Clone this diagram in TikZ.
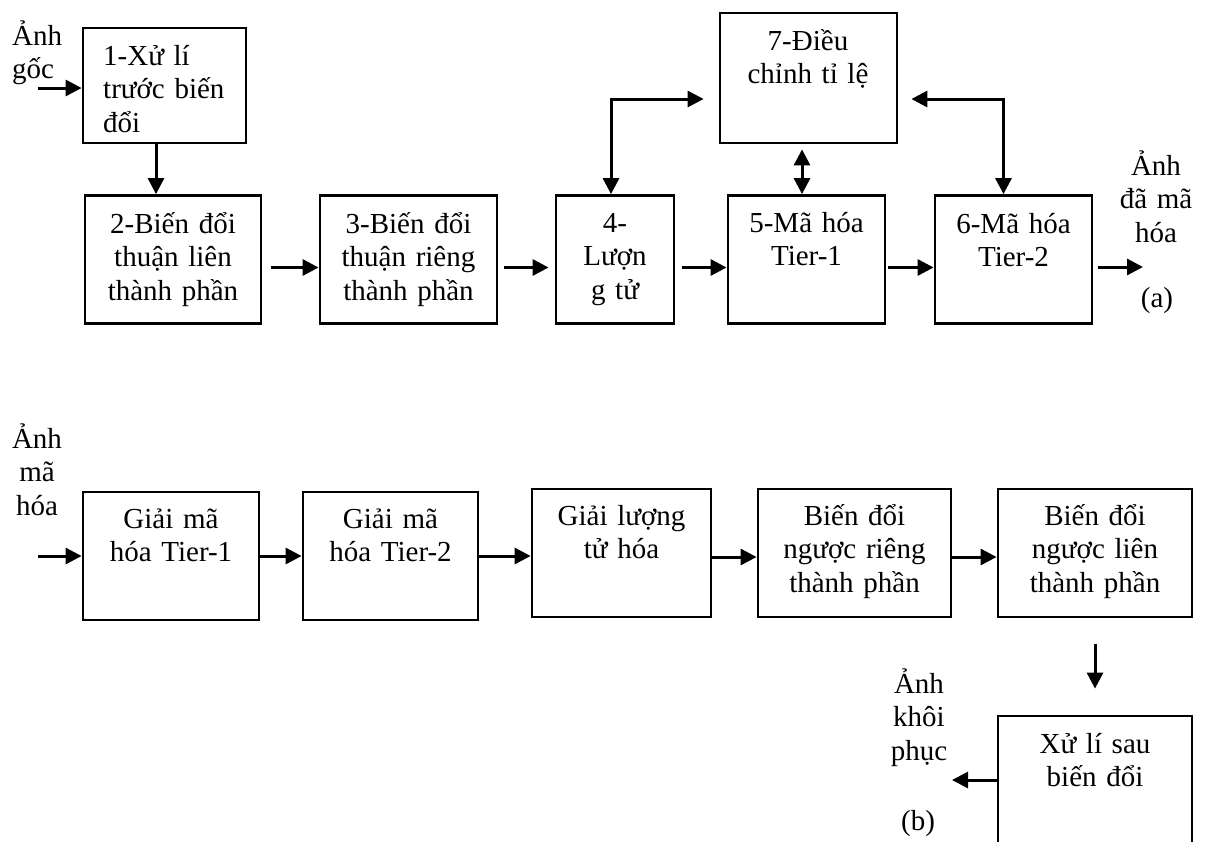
\documentclass[tikz,border=0pt]{standalone}
\usepackage{fontspec}
\setmainfont{Liberation Serif}
\usepackage{tikz}
\usetikzlibrary{arrows.meta}
\usetikzlibrary{positioning,calc}
\tikzset{
  every node/.style={font=\fontsize{29}{33.5}\selectfont}
}

\begin{document}
\begin{tikzpicture}[x=1pt, y=-1pt]
  \tikzset{
    block/.style={
      draw,
      line width=2.8pt,
      inner sep=0pt,
      minimum height=128pt,
    },
    blocktext/.style={
      align=center,
      text width=180pt,
      anchor=base,
      inner sep=0pt,
    },
    flow/.style={
      line width=3pt,
      -{Triangle[length=16pt, width=16pt]},
    },
    twoway/.style={
      line width=3pt,
      {Triangle[length=16pt, width=16pt]}-{Triangle[length=16pt, width=16pt]},
    }
  }
  \useasboundingbox (0,0) rectangle (1206,841);
  \clip (0,0) rectangle (1206,841);

  % Encoder (a)
  \node[block, minimum width=163pt, minimum height=115pt] (e1) at (164.5,85.5) {};
  \node[block, minimum width=176pt] (e2) at (173,259.5) {};
  \node[block, minimum width=177pt] (e3) at (408.5,259.5) {};
  \node[block, minimum width=118pt] (e4) at (615,259.5) {};
  \node[block, minimum width=157pt] (e5) at (806.5,259.5) {};
  \node[block, minimum width=157pt] (e6) at (1013.5,259.5) {};
  \node[block, minimum width=177pt, minimum height=130pt] (e7) at (808.5,78) {};

  \node[blocktext, align=left, text width=150pt, anchor=base west] (e1t) at (103,65) {1-Xử lí\\trước biến\\đổi};
  \node[blocktext] (e2t) at (173,233) {2-Biến đổi\\thuận liên\\thành phần};
  \node[blocktext] (e3t) at (408.5,233) {3-Biến đổi\\thuận riêng\\thành phần};
  \node[blocktext] (e4t) at (615,232) {4-\\Lượn\\g tử};
  \node[blocktext] (e5t) at (806.5,232) {5-Mã hóa\\Tier-1};
  \node[blocktext] (e6t) at (1013.5,233) {6-Mã hóa\\Tier-2};
  \node[blocktext] (e7t) at (808,50) {7-Điều\\chỉnh tỉ lệ};

  \node[blocktext, align=left, text width=80pt, anchor=base west] (src1) at (12,45) {Ảnh\\gốc};
  \node[blocktext, text width=100pt] (enc1) at (1156,175) {Ảnh\\đã mã\\hóa};
  \node[blocktext, text width=60pt] (capa) at (1157,307) {(a)};

  \coordinate (src) at (38,88);
  \coordinate (enc) at (1143,267);
  \draw[flow] (src) -- (src -| e1.west);
  \draw[flow] ([xshift=-8.5pt]e1.south) -- ([xshift=-8.5pt]e1.south |- e2.north);
  \draw[flow] ([xshift=9pt,yshift=-8pt]e2.east) -- ([yshift=-8pt]e3.west);
  \draw[flow] ([xshift=6pt,yshift=-8pt]e3.east) -- ([xshift=-6pt,yshift=-8pt]e4.west);
  \draw[flow] ([xshift=7pt,yshift=-8pt]e4.east) -- ([yshift=-8pt]e5.west);
  \draw[flow] ([xshift=2pt,yshift=-8pt]e5.east) -- ([yshift=-8pt]e6.west);
  \draw[flow] ([xshift=5pt]e6.east |- enc) -- (enc);

  % Rate control links
  \draw[twoway] ([xshift=-4pt]e4.north) |- ($(e7.west)+(-15,21)$);
  \draw[twoway] ([xshift=-4.5pt]e5.north) -- ($(e5.north |- e7.south)+(-4.5,5)$);
  \draw[twoway] ([xshift=-10pt]e6.north) |- ($(e7.east)+(13,21)$);

  % Decoder (b)
  \node[block, minimum width=176pt] (d1) at (171,556) {};
  \node[block, minimum width=175pt] (d2) at (390.5,556) {};
  \node[block, minimum width=179pt] (d3) at (621.5,553) {};
  \node[block, minimum width=193pt] (d4) at (854.5,553) {};
  \node[block, minimum width=194pt] (d5) at (1095,553) {};
  \node[block, minimum width=194pt] (d6) at (1095,780) {};

  \node[blocktext] (d1t) at (171,528) {Giải mã\\hóa Tier-1};
  \node[blocktext] (d2t) at (390.5,528) {Giải mã\\hóa Tier-2};
  \node[blocktext] (d3t) at (621.5,525) {Giải lượng\\tử hóa};
  \node[blocktext] (d4t) at (854.5,525) {Biến đổi\\ngược riêng\\thành phần};
  \node[blocktext] (d5t) at (1095,525) {Biến đổi\\ngược liên\\thành phần};
  \node[blocktext] (d6t) at (1095,753) {Xử lí sau\\biến đổi};

  \node[blocktext, text width=80pt] (dst1) at (37,448) {Ảnh\\mã\\hóa};
  \node[blocktext, text width=80pt] (rec1) at (919,693) {Ảnh\\khôi\\phục};
  \node[blocktext, text width=60pt] (capb) at (918,830) {(b)};

  \coordinate (dst) at (38,556);
  \coordinate (rec) at (952,780);
  \draw[flow] (dst) -- (dst -| d1.west);
  \draw[flow] (d1) -- (d2);
  \draw[flow] (d2.east) -- (d2.east -| d3.west);
  \draw[flow] ([yshift=-4pt]d3.east) -- ([yshift=-4pt]d4.west);
  \draw[flow] ([yshift=-4pt]d4.east) -- ([yshift=-4pt]d5.west);
  \draw[flow] ([yshift=-26pt]d5.south) -- ([yshift=26pt]d6.north);
  \draw[flow] (d6.west) -- (rec);
\end{tikzpicture}
\end{document}
